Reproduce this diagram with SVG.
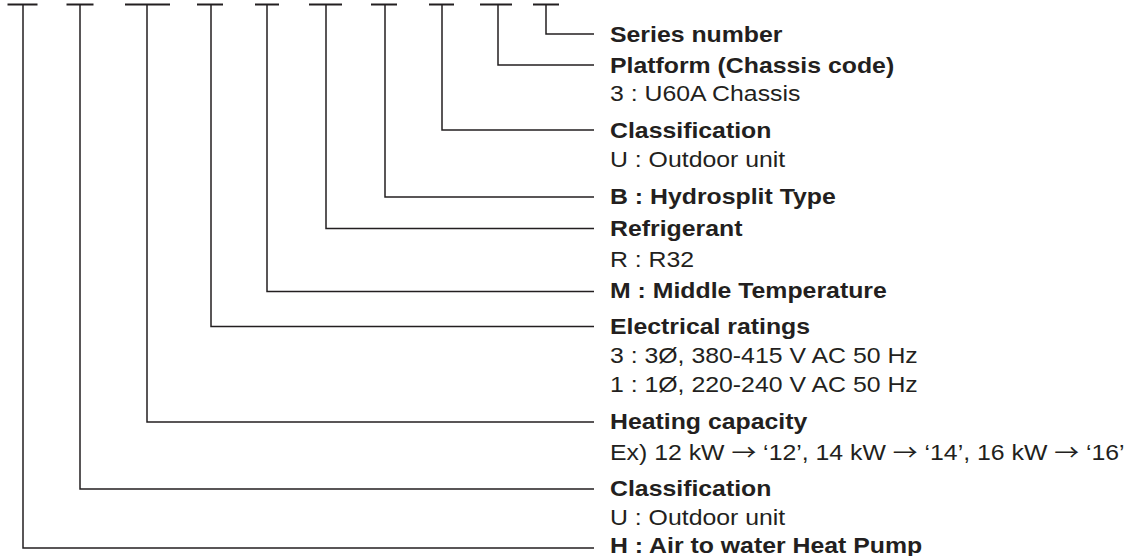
<svg xmlns="http://www.w3.org/2000/svg" width="1129" height="556" viewBox="0 0 1129 556">
<style>
.c{fill:none;stroke:#231f20;stroke-width:1.5}
.b{fill:none;stroke:#231f20;stroke-width:2}
text{font-family:"Liberation Sans",Arial,sans-serif;font-size:21.5px;fill:#231f20}
.h{font-weight:bold}
.a{font-family:"Noto Sans CJK JP","Liberation Sans",sans-serif}
</style>
<rect width="1129" height="556" fill="#fff"/>
<g id="connectors">
<path class="b" d="M7.5 4.5H37.5M66.5 4.5H93.5M125 4.5H170M197 4.5H223M255 4.5H279M309 4.5H342M371 4.5H397M429 4.5H454M480 4.5H512M533 4.5H559"/>
<path class="c" d="M23 4.5V548H594"/>
<path class="c" d="M80 4.5V489H594"/>
<path class="c" d="M147 4.5V422H594"/>
<path class="c" d="M211 4.5V326.5H594"/>
<path class="c" d="M267 4.5V291.5H594"/>
<path class="c" d="M326 4.5V228.5H594"/>
<path class="c" d="M385 4.5V197H594"/>
<path class="c" d="M442 4.5V130H594"/>
<path class="c" d="M498 4.5V65H594"/>
<path class="c" d="M546 4.5V34H594"/>
</g>
<g transform="translate(610 0) scale(1.155 1)">
<g id="series"><text class="h" x="0" y="42.5">Series number</text></g>
<g id="platform"><text class="h" x="0" y="73.5">Platform (Chassis code)</text><text x="0" y="101.5">3 : U60A Chassis</text></g>
<g id="classification1"><text class="h" x="0" y="138">Classification</text><text x="0" y="167.5">U : Outdoor unit</text></g>
<g id="hydrosplit"><text class="h" x="0" y="204.5">B : Hydrosplit Type</text></g>
<g id="refrigerant"><text class="h" x="0" y="236">Refrigerant</text><text x="0" y="267">R : R32</text></g>
<g id="middle"><text class="h" x="0" y="298.5">M : Middle Temperature</text></g>
<g id="electrical"><text class="h" x="0" y="334">Electrical ratings</text><text x="0" y="363">3 : 3Ø, 380-415 V AC 50 Hz</text><text x="0" y="392.5">1 : 1Ø, 220-240 V AC 50 Hz</text></g>
<g id="heating"><text class="h" x="0" y="429.5">Heating capacity</text><text x="0" y="460">Ex) 12 kW <tspan class="a">→</tspan> ‘12’, 14 kW <tspan class="a">→</tspan> ‘14’, 16 kW <tspan class="a">→</tspan> ‘16’</text></g>
<g id="classification2"><text class="h" x="0" y="496">Classification</text><text x="0" y="525">U : Outdoor unit</text></g>
<g id="heatpump"><text class="h" x="0" y="553">H : Air to water Heat Pump</text></g>
</g>
</svg>
